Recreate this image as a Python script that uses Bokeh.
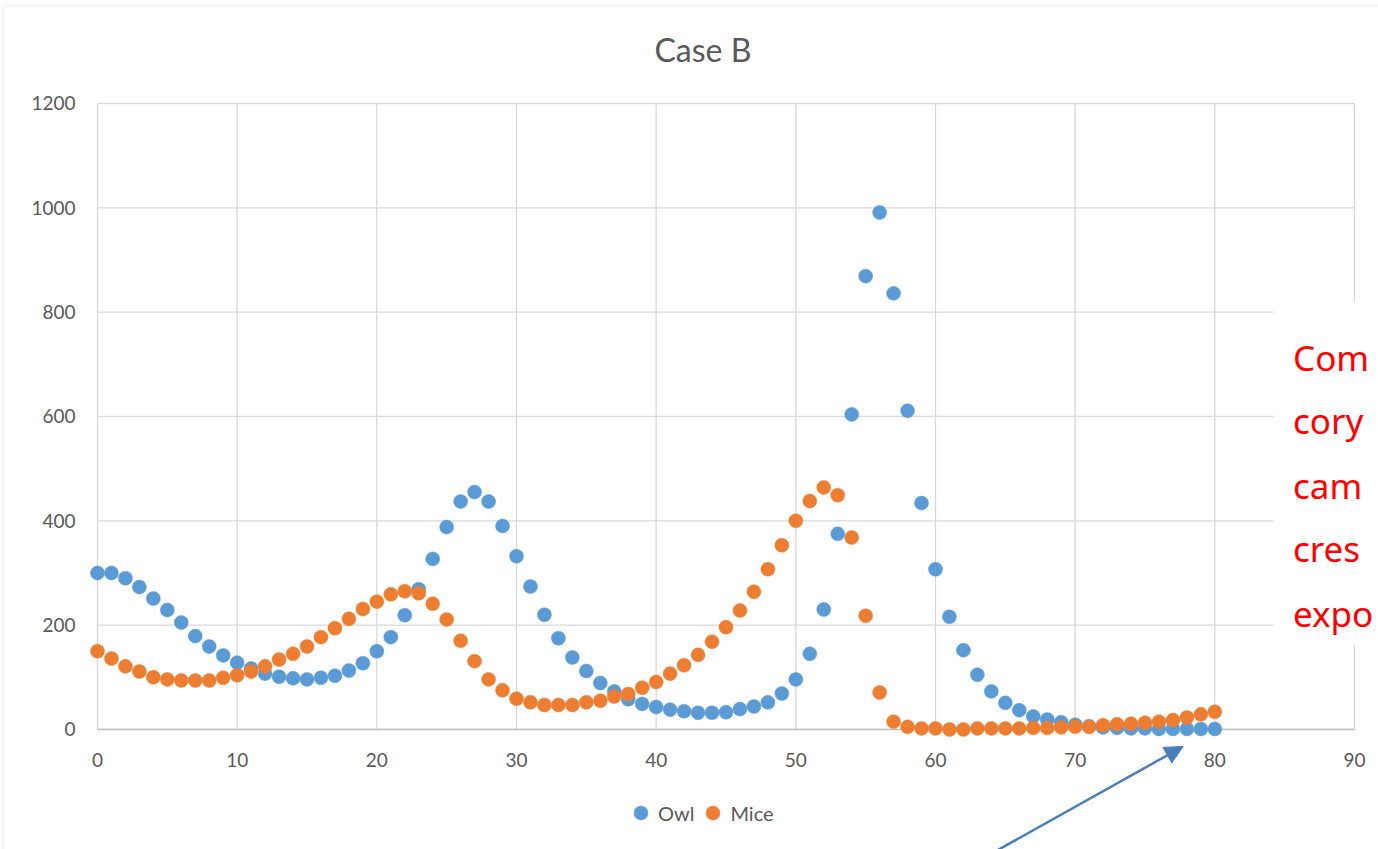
from bokeh.plotting import figure
from bokeh.models import (Range1d, Legend, LegendItem, BoxAnnotation,
                          Label, Arrow, NormalHead)
from bokeh.core.properties import value
from bokeh.embed import file_html
from bokeh.resources import INLINE

# ---------------- data ----------------
steps = [0, 1, 2, 3, 4, 5, 6, 7, 8, 9, 10, 11, 12, 13, 14, 15, 16, 17, 18, 19,
         20, 21, 22, 23, 24, 25, 26, 27, 28, 29, 30, 31, 32, 33, 34, 35, 36, 37, 38, 39,
         40, 41, 42, 43, 44, 45, 46, 47, 48, 49, 50, 51, 52, 53, 54, 55, 56, 57, 58, 59,
         60, 61, 62, 63, 64, 65, 66, 67, 68, 69, 70, 71, 72, 73, 74, 75, 76, 77, 78, 79, 80]

owl = [300, 300, 290, 273, 251, 229, 205, 179, 159, 142,
       128, 117, 107, 101, 98, 96, 99, 103, 113, 127,
       150, 177, 219, 269, 327, 388, 437, 455, 437, 390,
       332, 274, 220, 175, 138, 112, 89, 73, 58, 49,
       43, 38, 35, 32, 32, 33, 39, 44, 52, 69,
       96, 145, 230, 375, 604, 869, 991, 836, 611, 434,
       307, 216, 152, 105, 73, 51, 37, 25, 19, 14,
       9, 6, 4, 3, 2, 2, 1, 1, 1, 1, 1]

mice = [150, 136, 121, 111, 100, 96, 94, 94, 94, 99,
        104, 111, 121, 134, 145, 159, 177, 194, 212, 231,
        245, 259, 265, 261, 241, 211, 170, 131, 96, 75,
        59, 52, 47, 47, 47, 52, 55, 63, 68, 80,
        91, 107, 123, 143, 168, 196, 228, 264, 307, 353,
        400, 438, 464, 449, 368, 218, 71, 15, 5, 2,
        2, 0, 0, 2, 2, 2, 2, 3, 3, 4,
        5, 5, 8, 10, 11, 13, 15, 18, 23, 29, 34]

x_ticks = [0, 10, 20, 30, 40, 50, 60, 70, 80, 90]
y_ticks = [0, 200, 400, 600, 800, 1000, 1200]

title_text = "Case B"
series_names = ["Owl", "Mice"]
note_lines = ["Com", "cory", "cam", "cres", "expo"]

# ---------------- figure ----------------
GRAY_TXT = "#595959"
GRID = "#D9D9D9"
FONT = "Lato"

# the frame fills the whole page so that the annotations outside the
# plotting area (arrow, chart border, legend) are not clipped
p = figure(width=1378, height=849, output_backend="svg", toolbar_location=None,
           x_range=Range1d(-6.945, 91.72), y_range=Range1d(-230.1, 1397.4),
           x_axis_type=None, y_axis_type=None,
           min_border_left=0, min_border_right=0, min_border_top=0,
           min_border_bottom=0)
p.outline_line_color = None
p.background_fill_color = "white"
p.border_fill_color = "white"
p.grid.visible = False

# gridlines limited to the plot area
p.segment(x0=x_ticks, y0=[y_ticks[0]] * len(x_ticks),
          x1=x_ticks, y1=[y_ticks[-1]] * len(x_ticks),
          line_color=GRID, line_width=1.3)
p.segment(x0=[x_ticks[0]] * len(y_ticks), y0=y_ticks,
          x1=[x_ticks[-1]] * len(y_ticks), y1=y_ticks,
          line_color=GRID, line_width=1.3)

# horizontal axis line
p.segment(x0=[x_ticks[0]], y0=[y_ticks[0]], x1=[x_ticks[-1]], y1=[y_ticks[0]],
          line_color="#BFBFBF", line_width=1.6)

# tick labels
p.text(x=x_ticks, y=[y_ticks[0]] * len(x_ticks), text=[str(t) for t in x_ticks],
       y_offset=31, text_align="center", text_baseline="middle",
       text_font=value(FONT), text_font_size="19px", text_color=GRAY_TXT)
p.text(x=[x_ticks[0]] * len(y_ticks), y=y_ticks, text=[str(t) for t in y_ticks],
       x_offset=-22, text_align="right", text_baseline="middle",
       text_font=value(FONT), text_font_size="19px", text_color=GRAY_TXT)

# title
p.add_layout(Label(x=43.35, y=1303, text=title_text, text_align="center",
                   text_baseline="middle", text_font=FONT, text_font_size="32px",
                   text_color=GRAY_TXT))

# series
r_owl = p.scatter(steps, owl, size=14, marker="circle",
                  fill_color="#5B9BD5", line_color="#5B9BD5", line_width=0.5)
r_mice = p.scatter(steps, mice, size=14, marker="circle",
                   fill_color="#ED7D31", line_color="#ED7D31", line_width=0.5)

legend = Legend(items=[LegendItem(label=series_names[0], renderers=[r_owl]),
                       LegendItem(label=series_names[1], renderers=[r_mice])],
                orientation="horizontal", location=(623, 19),
                glyph_width=35, glyph_height=35, label_standoff=0, spacing=1,
                padding=0, margin=0, border_line_color=None,
                background_fill_alpha=0,
                label_text_font=FONT, label_text_font_size="20px",
                label_text_color=GRAY_TXT)
p.add_layout(legend, "center")

# white note box covering the right part of the plot
p.add_layout(BoxAnnotation(left=84.2, right=95, top=818, bottom=161,
                           fill_color="white", fill_alpha=1.0, line_color=None,
                           level="annotation"))

note_y = [713, 592, 468, 346, 222]
for txt, yy in zip(note_lines, note_y):
    p.add_layout(Label(x=85.6, y=yy, text=txt, text_color="#FF0000",
                       text_font="Noto Sans", text_font_size="35px",
                       text_baseline="alphabetic", level="overlay"))

# outer chart border
p.add_layout(BoxAnnotation(left=-6.73, right=100, top=1387.8, bottom=-400,
                           fill_alpha=0, line_color=GRID, line_width=1.5,
                           level="underlay"))

# pointing arrow
p.add_layout(Arrow(x_start=64.4, y_start=-232, x_end=77.73, y_end=-32.6,
                   line_color="#4A7EBB", line_width=2.5,
                   end=NormalHead(size=18, fill_color="#4A7EBB", line_color="#4A7EBB")))

open("out.html", "w").write(file_html(p, INLINE))
